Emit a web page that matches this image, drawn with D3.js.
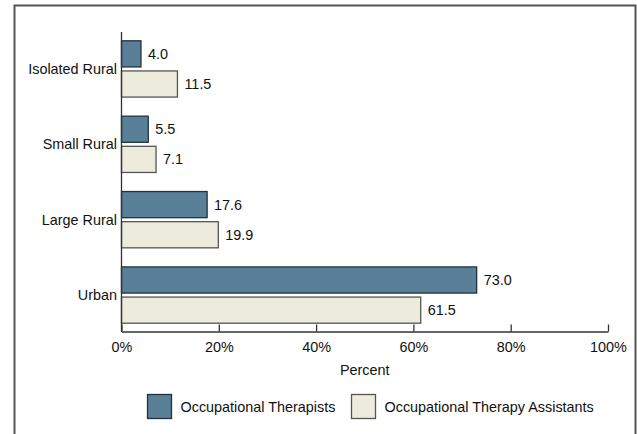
<!DOCTYPE html>
<html>
<head>
<meta charset="utf-8">
<script src="https://cdn.jsdelivr.net/npm/d3@7"></script>
<style>
  body { margin: 0; background: #fff; }
  text { font-family: "Liberation Sans", Arial, sans-serif; fill: #111; }
</style>
</head>
<body>
<script>
"use strict";

// chart data
var categories = ["Isolated Rural", "Small Rural", "Large Rural", "Urban"];
var seriesNames = ["Occupational Therapists", "Occupational Therapy Assistants"];
var therapists = [4.0, 5.5, 17.6, 73.0];
var assistants = [11.5, 7.1, 19.9, 61.5];
var xTicks = [0, 20, 40, 60, 80, 100];

var fills = ["#5a7f99", "#edebdb"];
var strokes = ["#22323d", "#555555"];
var fs = 14.4;

var W = 637, H = 434;
var svg = d3.select("body").append("svg")
  .attr("width", W)
  .attr("height", H);

// outer frame (no bottom edge)
svg.append("path")
  .attr("d", "M14.5,434 L14.5,5.5 L635.5,5.5 L635.5,434")
  .attr("fill", "none")
  .attr("stroke", "#555")
  .attr("stroke-width", 2);

var x = d3.scaleLinear().domain([0, 100]).range([121.5, 608]);
var y = d3.scaleBand().domain(categories).range([32, 332])
  .paddingInner(0.24).paddingOuter(0.11);
var sub = d3.scaleBand().domain([0, 1]).range([0, y.bandwidth()]).paddingInner(0.1);

var rows = categories.map(function(c, i) {
  return {cat: c, vals: [therapists[i], assistants[i]]};
});

var g = svg.append("g").selectAll("g")
  .data(rows)
  .enter().append("g")
  .attr("transform", function(d) { return "translate(0," + y(d.cat) + ")"; });

var bars = g.selectAll("g.bar")
  .data(function(d) { return d.vals.map(function(v, k) { return {v: v, k: k}; }); })
  .enter().append("g").attr("class", "bar");

bars.append("rect")
  .attr("x", x(0))
  .attr("y", function(d) { return sub(d.k) + 0.5; })
  .attr("width", function(d) { return x(d.v) - x(0); })
  .attr("height", sub.bandwidth() - 1)
  .attr("fill", function(d) { return fills[d.k]; })
  .attr("stroke", function(d) { return strokes[d.k]; })
  .attr("stroke-width", 1.3);

bars.append("text")
  .attr("x", function(d) { return x(d.v) + 7; })
  .attr("y", function(d) { return sub(d.k) + sub.bandwidth() / 2; })
  .attr("dy", "0.35em")
  .attr("font-size", fs)
  .text(function(d) { return d3.format(".1f")(d.v); });

// category labels
svg.append("g").selectAll("text")
  .data(categories)
  .enter().append("text")
  .attr("x", 117)
  .attr("y", function(d) { return y(d) + y.bandwidth() / 2; })
  .attr("dy", "0.35em")
  .attr("text-anchor", "end")
  .attr("font-size", fs)
  .text(function(d) { return d; });

// y axis line
svg.append("line")
  .attr("x1", 121.5).attr("x2", 121.5)
  .attr("y1", 32).attr("y2", 332)
  .attr("stroke", "#333").attr("stroke-width", 1.3);

// x axis, ticks point up
var xAxis = d3.axisBottom(x)
  .tickValues(xTicks)
  .tickSize(-7)
  .tickSizeOuter(0)
  .tickFormat(function(d) { return d + "%"; });

var ax = svg.append("g")
  .attr("transform", "translate(0,331.5)")
  .call(xAxis);
ax.select(".domain").attr("stroke", "#333").attr("stroke-width", 1.3);
ax.selectAll(".tick line").attr("stroke", "#333").attr("stroke-width", 1.3);
ax.selectAll(".tick text")
  .attr("y", 10)
  .attr("font-size", fs)
  .attr("font-family", "Liberation Sans, Arial, sans-serif")
  .attr("fill", "#111");

svg.append("text")
  .attr("x", (x(0) + x(100)) / 2)
  .attr("y", 375)
  .attr("text-anchor", "middle")
  .attr("font-size", fs)
  .text("Percent");

// legend
var legX = [147.5, 351.5];
var leg = svg.append("g").selectAll("g")
  .data(seriesNames)
  .enter().append("g")
  .attr("transform", function(d, i) { return "translate(" + legX[i] + ",394.5)"; });
leg.append("rect")
  .attr("width", 24).attr("height", 24)
  .attr("fill", function(d, i) { return fills[i]; })
  .attr("stroke", function(d, i) { return strokes[i]; })
  .attr("stroke-width", 1.3);
leg.append("text")
  .attr("x", 33)
  .attr("y", 12)
  .attr("dy", "0.35em")
  .attr("font-size", fs)
  .text(function(d) { return d; });
</script>
</body>
</html>
